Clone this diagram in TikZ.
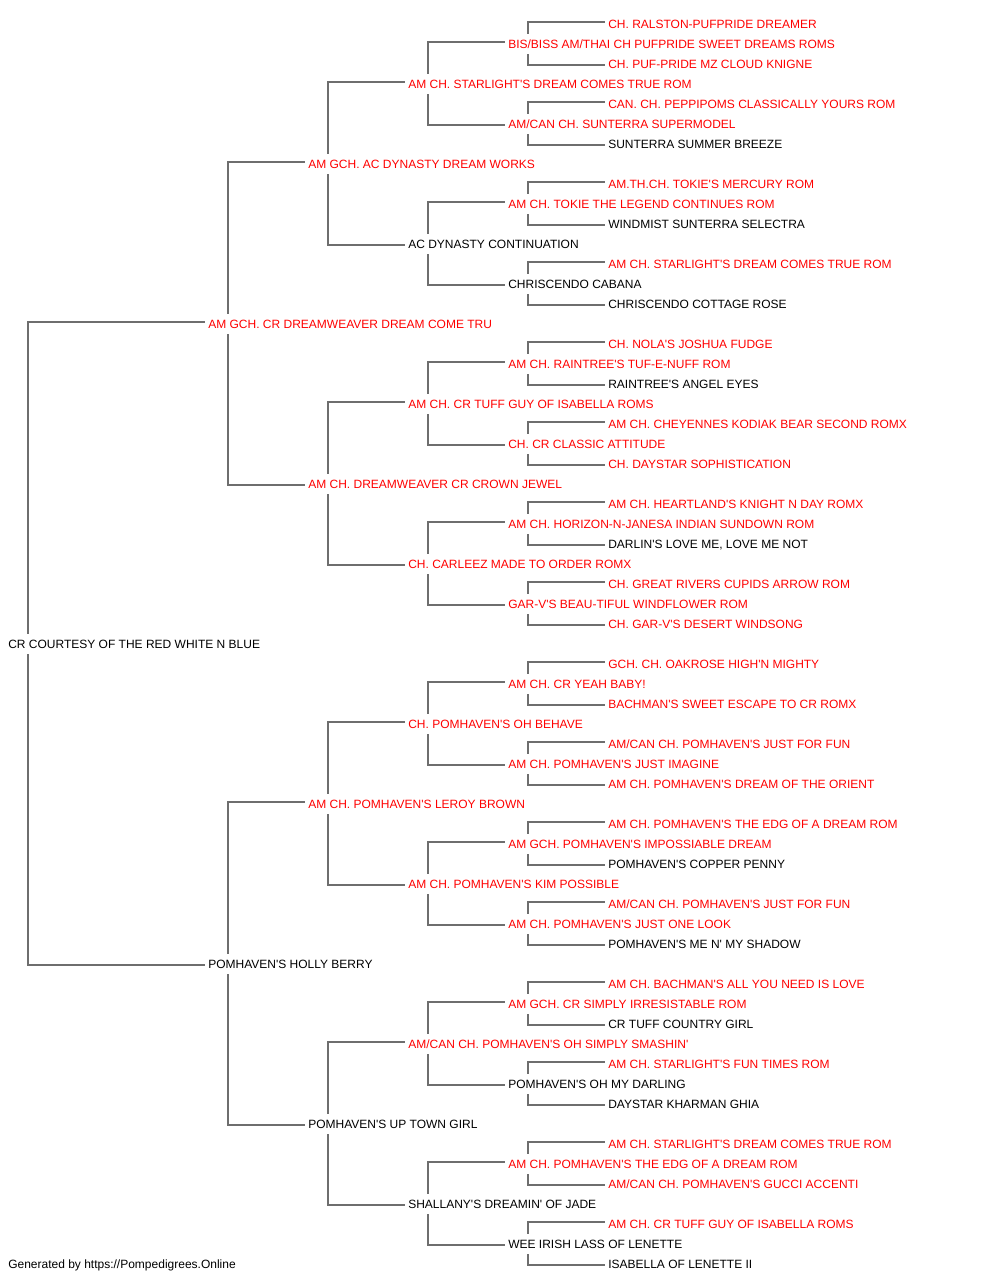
\documentclass[tikz,border=0pt]{standalone}
\usepackage{fontspec}
\usepackage{xcolor}
\usepackage{tikz}
\newfontfamily\dogfont{Liberation Sans}[Ligatures=TeXOff]
\definecolor{linegray}{RGB}{110,110,110}
\definecolor{champred}{RGB}{255,0,0}
\tikzset{
  plain/.style={anchor=west, inner xsep=2.25pt, inner ysep=0pt, text height=6.44pt,
    text depth=0pt, minimum height=15pt, font=\dogfont\fontsize{9pt}{11pt}\selectfont},
  champ/.style={plain, text=champred},
  link/.style={draw=linegray, line width=1.35pt}
}
\begin{document}
\begin{tikzpicture}[x=0.75pt,y=-0.75pt]
  \useasboundingbox (0,0) rectangle (1000,1280);
  \node[plain] (dog) at (5,644) {CR COURTESY OF THE RED WHITE N BLUE};
  \node[champ] (s) at (205,324) {AM GCH. CR DREAMWEAVER DREAM COME TRU};
  \node[plain] (d) at (205,964) {POMHAVEN'S HOLLY BERRY};
  \node[champ] (ss) at (305,164) {AM GCH. AC DYNASTY DREAM WORKS};
  \node[champ] (sd) at (305,484) {AM CH. DREAMWEAVER CR CROWN JEWEL};
  \node[champ] (ds) at (305,804) {AM CH. POMHAVEN'S LEROY BROWN};
  \node[plain] (dd) at (305,1124) {POMHAVEN'S UP TOWN GIRL};
  \node[champ] (sss) at (405,84) {AM CH. STARLIGHT'S DREAM COMES TRUE ROM};
  \node[plain] (ssd) at (405,244) {AC DYNASTY CONTINUATION};
  \node[champ] (sds) at (405,404) {AM CH. CR TUFF GUY OF ISABELLA ROMS};
  \node[champ] (sdd) at (405,564) {CH. CARLEEZ MADE TO ORDER ROMX};
  \node[champ] (dss) at (405,724) {CH. POMHAVEN'S OH BEHAVE};
  \node[champ] (dsd) at (405,884) {AM CH. POMHAVEN'S KIM POSSIBLE};
  \node[champ] (dds) at (405,1044) {AM/CAN CH. POMHAVEN'S OH SIMPLY SMASHIN'};
  \node[plain] (ddd) at (405,1204) {SHALLANY'S DREAMIN' OF JADE};
  \node[champ] (ssss) at (505,44) {BIS/BISS AM/THAI CH PUFPRIDE SWEET DREAMS ROMS};
  \node[champ] (sssd) at (505,124) {AM/CAN CH. SUNTERRA SUPERMODEL};
  \node[champ] (ssds) at (505,204) {AM CH. TOKIE THE LEGEND CONTINUES ROM};
  \node[plain] (ssdd) at (505,284) {CHRISCENDO CABANA};
  \node[champ] (sdss) at (505,364) {AM CH. RAINTREE'S TUF-E-NUFF ROM};
  \node[champ] (sdsd) at (505,444) {CH. CR CLASSIC ATTITUDE};
  \node[champ] (sdds) at (505,524) {AM CH. HORIZON-N-JANESA INDIAN SUNDOWN ROM};
  \node[champ] (sddd) at (505,604) {GAR-V'S BEAU-TIFUL WINDFLOWER ROM};
  \node[champ] (dsss) at (505,684) {AM CH. CR YEAH BABY!};
  \node[champ] (dssd) at (505,764) {AM CH. POMHAVEN'S JUST IMAGINE};
  \node[champ] (dsds) at (505,844) {AM GCH. POMHAVEN'S IMPOSSIABLE DREAM};
  \node[champ] (dsdd) at (505,924) {AM CH. POMHAVEN'S JUST ONE LOOK};
  \node[champ] (ddss) at (505,1004) {AM GCH. CR SIMPLY IRRESISTABLE ROM};
  \node[plain] (ddsd) at (505,1084) {POMHAVEN'S OH MY DARLING};
  \node[champ] (ddds) at (505,1164) {AM CH. POMHAVEN'S THE EDG OF A DREAM ROM};
  \node[plain] (dddd) at (505,1244) {WEE IRISH LASS OF LENETTE};
  \node[champ] (sssss) at (605,24) {CH. RALSTON-PUFPRIDE DREAMER};
  \node[champ] (ssssd) at (605,64) {CH. PUF-PRIDE MZ CLOUD KNIGNE};
  \node[champ] (sssds) at (605,104) {CAN. CH. PEPPIPOMS CLASSICALLY YOURS ROM};
  \node[plain] (sssdd) at (605,144) {SUNTERRA SUMMER BREEZE};
  \node[champ] (ssdss) at (605,184) {AM.TH.CH. TOKIE'S MERCURY ROM};
  \node[plain] (ssdsd) at (605,224) {WINDMIST SUNTERRA SELECTRA};
  \node[champ] (ssdds) at (605,264) {AM CH. STARLIGHT'S DREAM COMES TRUE ROM};
  \node[plain] (ssddd) at (605,304) {CHRISCENDO COTTAGE ROSE};
  \node[champ] (sdsss) at (605,344) {CH. NOLA'S JOSHUA FUDGE};
  \node[plain] (sdssd) at (605,384) {RAINTREE'S ANGEL EYES};
  \node[champ] (sdsds) at (605,424) {AM CH. CHEYENNES KODIAK BEAR SECOND ROMX};
  \node[champ] (sdsdd) at (605,464) {CH. DAYSTAR SOPHISTICATION};
  \node[champ] (sddss) at (605,504) {AM CH. HEARTLAND'S KNIGHT N DAY ROMX};
  \node[plain] (sddsd) at (605,544) {DARLIN'S LOVE ME, LOVE ME NOT};
  \node[champ] (sddds) at (605,584) {CH. GREAT RIVERS CUPIDS ARROW ROM};
  \node[champ] (sdddd) at (605,624) {CH. GAR-V'S DESERT WINDSONG};
  \node[champ] (dssss) at (605,664) {GCH. CH. OAKROSE HIGH'N MIGHTY};
  \node[champ] (dsssd) at (605,704) {BACHMAN'S SWEET ESCAPE TO CR ROMX};
  \node[champ] (dssds) at (605,744) {AM/CAN CH. POMHAVEN'S JUST FOR FUN};
  \node[champ] (dssdd) at (605,784) {AM CH. POMHAVEN'S DREAM OF THE ORIENT};
  \node[champ] (dsdss) at (605,824) {AM CH. POMHAVEN'S THE EDG OF A DREAM ROM};
  \node[plain] (dsdsd) at (605,864) {POMHAVEN'S COPPER PENNY};
  \node[champ] (dsdds) at (605,904) {AM/CAN CH. POMHAVEN'S JUST FOR FUN};
  \node[plain] (dsddd) at (605,944) {POMHAVEN'S ME N' MY SHADOW};
  \node[champ] (ddsss) at (605,984) {AM CH. BACHMAN'S ALL YOU NEED IS LOVE};
  \node[plain] (ddssd) at (605,1024) {CR TUFF COUNTRY GIRL};
  \node[champ] (ddsds) at (605,1064) {AM CH. STARLIGHT'S FUN TIMES ROM};
  \node[plain] (ddsdd) at (605,1104) {DAYSTAR KHARMAN GHIA};
  \node[champ] (dddss) at (605,1144) {AM CH. STARLIGHT'S DREAM COMES TRUE ROM};
  \node[champ] (dddsd) at (605,1184) {AM/CAN CH. POMHAVEN'S GUCCI ACCENTI};
  \node[champ] (dddds) at (605,1224) {AM CH. CR TUFF GUY OF ISABELLA ROMS};
  \node[plain] (ddddd) at (605,1264) {ISABELLA OF LENETTE II};
  \node[plain] (footer) at (5,1264) {Generated by https://Pompedigrees.Online};
  \draw[link] ([xshift=17.25pt]dog.north west) |- ([yshift=1.5pt]s.west);
  \draw[link] ([xshift=17.25pt]dog.south west) |- ([yshift=-0.75pt]d.west);
  \draw[link] ([xshift=17.25pt]s.north west) |- ([yshift=1.5pt]ss.west);
  \draw[link] ([xshift=17.25pt]s.south west) |- ([yshift=-0.75pt]sd.west);
  \draw[link] ([xshift=17.25pt]d.north west) |- ([yshift=1.5pt]ds.west);
  \draw[link] ([xshift=17.25pt]d.south west) |- ([yshift=-0.75pt]dd.west);
  \draw[link] ([xshift=17.25pt]ss.north west) |- ([yshift=1.5pt]sss.west);
  \draw[link] ([xshift=17.25pt]ss.south west) |- ([yshift=-0.75pt]ssd.west);
  \draw[link] ([xshift=17.25pt]sd.north west) |- ([yshift=1.5pt]sds.west);
  \draw[link] ([xshift=17.25pt]sd.south west) |- ([yshift=-0.75pt]sdd.west);
  \draw[link] ([xshift=17.25pt]ds.north west) |- ([yshift=1.5pt]dss.west);
  \draw[link] ([xshift=17.25pt]ds.south west) |- ([yshift=-0.75pt]dsd.west);
  \draw[link] ([xshift=17.25pt]dd.north west) |- ([yshift=1.5pt]dds.west);
  \draw[link] ([xshift=17.25pt]dd.south west) |- ([yshift=-0.75pt]ddd.west);
  \draw[link] ([xshift=17.25pt]sss.north west) |- ([yshift=1.5pt]ssss.west);
  \draw[link] ([xshift=17.25pt]sss.south west) |- ([yshift=-0.75pt]sssd.west);
  \draw[link] ([xshift=17.25pt]ssd.north west) |- ([yshift=1.5pt]ssds.west);
  \draw[link] ([xshift=17.25pt]ssd.south west) |- ([yshift=-0.75pt]ssdd.west);
  \draw[link] ([xshift=17.25pt]sds.north west) |- ([yshift=1.5pt]sdss.west);
  \draw[link] ([xshift=17.25pt]sds.south west) |- ([yshift=-0.75pt]sdsd.west);
  \draw[link] ([xshift=17.25pt]sdd.north west) |- ([yshift=1.5pt]sdds.west);
  \draw[link] ([xshift=17.25pt]sdd.south west) |- ([yshift=-0.75pt]sddd.west);
  \draw[link] ([xshift=17.25pt]dss.north west) |- ([yshift=1.5pt]dsss.west);
  \draw[link] ([xshift=17.25pt]dss.south west) |- ([yshift=-0.75pt]dssd.west);
  \draw[link] ([xshift=17.25pt]dsd.north west) |- ([yshift=1.5pt]dsds.west);
  \draw[link] ([xshift=17.25pt]dsd.south west) |- ([yshift=-0.75pt]dsdd.west);
  \draw[link] ([xshift=17.25pt]dds.north west) |- ([yshift=1.5pt]ddss.west);
  \draw[link] ([xshift=17.25pt]dds.south west) |- ([yshift=-0.75pt]ddsd.west);
  \draw[link] ([xshift=17.25pt]ddd.north west) |- ([yshift=1.5pt]ddds.west);
  \draw[link] ([xshift=17.25pt]ddd.south west) |- ([yshift=-0.75pt]dddd.west);
  \draw[link] ([xshift=17.25pt]ssss.north west) |- ([yshift=1.5pt]sssss.west);
  \draw[link] ([xshift=17.25pt]ssss.south west) |- ([yshift=-0.75pt]ssssd.west);
  \draw[link] ([xshift=17.25pt]sssd.north west) |- ([yshift=1.5pt]sssds.west);
  \draw[link] ([xshift=17.25pt]sssd.south west) |- ([yshift=-0.75pt]sssdd.west);
  \draw[link] ([xshift=17.25pt]ssds.north west) |- ([yshift=1.5pt]ssdss.west);
  \draw[link] ([xshift=17.25pt]ssds.south west) |- ([yshift=-0.75pt]ssdsd.west);
  \draw[link] ([xshift=17.25pt]ssdd.north west) |- ([yshift=1.5pt]ssdds.west);
  \draw[link] ([xshift=17.25pt]ssdd.south west) |- ([yshift=-0.75pt]ssddd.west);
  \draw[link] ([xshift=17.25pt]sdss.north west) |- ([yshift=1.5pt]sdsss.west);
  \draw[link] ([xshift=17.25pt]sdss.south west) |- ([yshift=-0.75pt]sdssd.west);
  \draw[link] ([xshift=17.25pt]sdsd.north west) |- ([yshift=1.5pt]sdsds.west);
  \draw[link] ([xshift=17.25pt]sdsd.south west) |- ([yshift=-0.75pt]sdsdd.west);
  \draw[link] ([xshift=17.25pt]sdds.north west) |- ([yshift=1.5pt]sddss.west);
  \draw[link] ([xshift=17.25pt]sdds.south west) |- ([yshift=-0.75pt]sddsd.west);
  \draw[link] ([xshift=17.25pt]sddd.north west) |- ([yshift=1.5pt]sddds.west);
  \draw[link] ([xshift=17.25pt]sddd.south west) |- ([yshift=-0.75pt]sdddd.west);
  \draw[link] ([xshift=17.25pt]dsss.north west) |- ([yshift=1.5pt]dssss.west);
  \draw[link] ([xshift=17.25pt]dsss.south west) |- ([yshift=-0.75pt]dsssd.west);
  \draw[link] ([xshift=17.25pt]dssd.north west) |- ([yshift=1.5pt]dssds.west);
  \draw[link] ([xshift=17.25pt]dssd.south west) |- ([yshift=-0.75pt]dssdd.west);
  \draw[link] ([xshift=17.25pt]dsds.north west) |- ([yshift=1.5pt]dsdss.west);
  \draw[link] ([xshift=17.25pt]dsds.south west) |- ([yshift=-0.75pt]dsdsd.west);
  \draw[link] ([xshift=17.25pt]dsdd.north west) |- ([yshift=1.5pt]dsdds.west);
  \draw[link] ([xshift=17.25pt]dsdd.south west) |- ([yshift=-0.75pt]dsddd.west);
  \draw[link] ([xshift=17.25pt]ddss.north west) |- ([yshift=1.5pt]ddsss.west);
  \draw[link] ([xshift=17.25pt]ddss.south west) |- ([yshift=-0.75pt]ddssd.west);
  \draw[link] ([xshift=17.25pt]ddsd.north west) |- ([yshift=1.5pt]ddsds.west);
  \draw[link] ([xshift=17.25pt]ddsd.south west) |- ([yshift=-0.75pt]ddsdd.west);
  \draw[link] ([xshift=17.25pt]ddds.north west) |- ([yshift=1.5pt]dddss.west);
  \draw[link] ([xshift=17.25pt]ddds.south west) |- ([yshift=-0.75pt]dddsd.west);
  \draw[link] ([xshift=17.25pt]dddd.north west) |- ([yshift=1.5pt]dddds.west);
  \draw[link] ([xshift=17.25pt]dddd.south west) |- ([yshift=-0.75pt]ddddd.west);
\end{tikzpicture}
\end{document}
